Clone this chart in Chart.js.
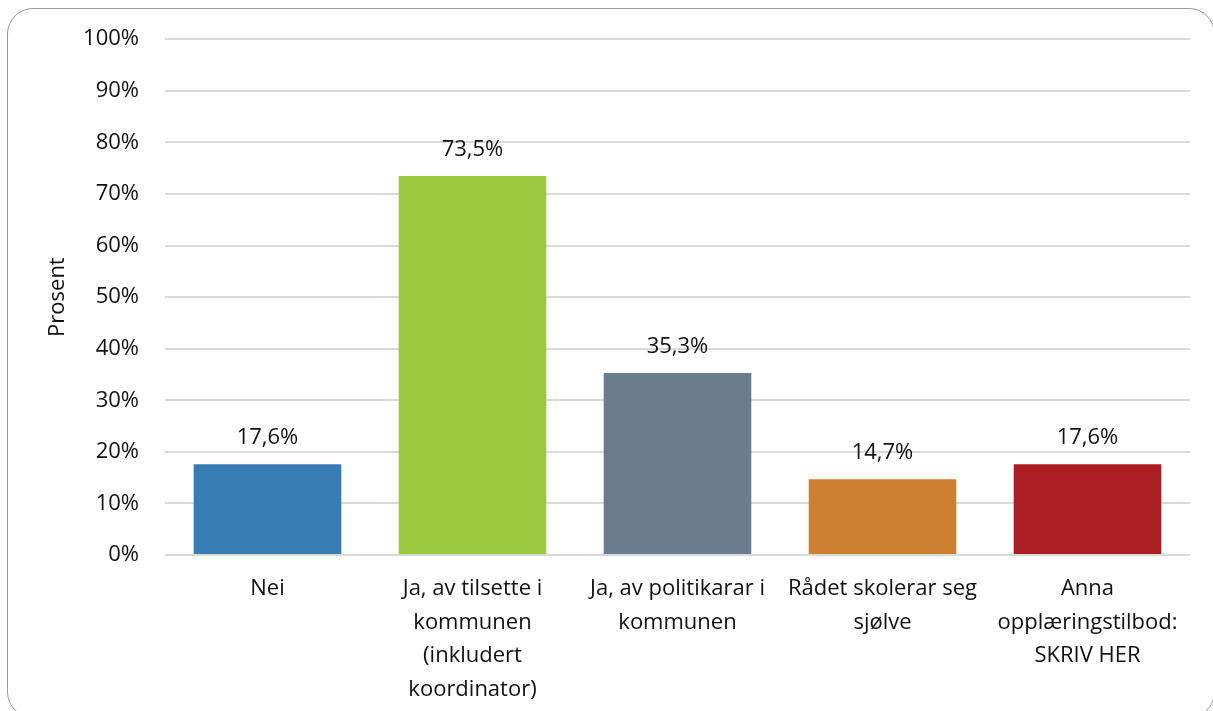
<!DOCTYPE html>
<html lang="nn">
<head>
<meta charset="UTF-8">
<title>Prosent</title>
<style>
    body { margin: 0; background: #fff; overflow: hidden; }
    .frame {
        position: absolute; left: 7px; top: 8px;
        width: 1206px; height: 708px;
        border: 1.5px solid #9a9a9a; border-radius: 26px;
    }
    #chart { position: absolute; left: 0; top: 0; }
</style>
</head>
<body>
<div class="frame"></div>
<canvas id="chart" width="1213" height="711"></canvas>
<script src="https://cdn.jsdelivr.net/npm/chart.js"></script>
<script>
    const categories = [
        ['Nei'],
        ['Ja, av tilsette i', 'kommunen', '(inkludert', 'koordinator)'],
        ['Ja, av politikarar i', 'kommunen'],
        ['Rådet skolerar seg', 'sjølve'],
        ['Anna', 'opplæringstilbod:', 'SKRIV HER']
    ];
    const values = [17.6, 73.5, 35.3, 14.7, 17.6];
    const valueLabels = ['17,6%', '73,5%', '35,3%', '14,7%', '17,6%'];
    const colors = ['#377db4', '#9bc93d', '#6b7c8e', '#cd8130', '#ad1e24'];
    const yTicks = [0, 10, 20, 30, 40, 50, 60, 70, 80, 90, 100];

    const fontFamily = '"Open Sans", Lato, sans-serif';
    const fontSize = 22;

    // draw the value above each bar
    const barLabels = {
        id: 'barLabels',
        afterDatasetsDraw(chart) {
            const ctx = chart.ctx;
            const meta = chart.getDatasetMeta(0);
            ctx.save();
            ctx.font = fontSize + 'px ' + fontFamily;
            ctx.fillStyle = '#111';
            ctx.textAlign = 'center';
            ctx.textBaseline = 'middle';
            meta.data.forEach((bar, i) => {
                ctx.fillText(valueLabels[i], bar.x, bar.y - 26);
            });
            ctx.restore();
        }
    };

    new Chart(document.getElementById('chart'), {
        type: 'bar',
        data: {
            labels: categories,
            datasets: [{
                data: values,
                backgroundColor: colors,
                categoryPercentage: 1,
                barPercentage: 0.72
            }]
        },
        options: {
            responsive: false,
            animation: false,
            layout: { padding: { left: 0, right: 23, top: 27, bottom: 0 } },
            plugins: { legend: { display: false }, tooltip: { enabled: false } },
            scales: {
                x: {
                    grid: { display: false },
                    border: { display: false },
                    ticks: {
                        color: '#111',
                        font: { family: fontFamily, size: fontSize, lineHeight: 1.53 },
                        padding: 9,
                        maxRotation: 0,
                        autoSkip: false
                    },
                    afterFit(scale) { scale.height = 156; }
                },
                y: {
                    min: 0,
                    max: 100,
                    afterBuildTicks(scale) { scale.ticks = yTicks.map(v => ({ value: v })); },
                    grid: { color: '#d9d9d9', lineWidth: 2, drawTicks: false },
                    border: { display: false },
                    ticks: {
                        color: '#111',
                        font: { family: fontFamily, size: fontSize },
                        padding: 26,
                        callback: v => v + '%'
                    },
                    title: {
                        display: true,
                        text: 'Prosent',
                        color: '#111',
                        font: { family: fontFamily, size: fontSize },
                        padding: { top: 45, bottom: 0 }
                    },
                    afterFit(scale) { scale.width = 165; }
                }
            }
        },
        plugins: [barLabels]
    });
</script>
</body>
</html>
